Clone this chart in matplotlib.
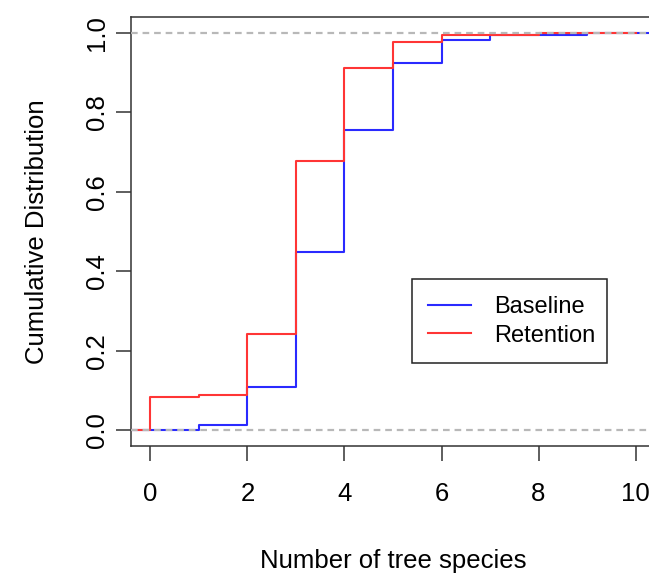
import numpy as np
import matplotlib.pyplot as plt

plt.rcParams['font.family'] = ['Liberation Sans', 'DejaVu Sans']

# ECDF step data (value after each knot)
base_knots = [1, 2, 3, 4, 5, 6, 7, 9]
base_vals = [0.013, 0.109, 0.448, 0.755, 0.925, 0.981, 0.994, 1.0]
ret_knots = [0, 1, 2, 3, 4, 5, 6, 8]
ret_vals = [0.083, 0.089, 0.241, 0.678, 0.912, 0.977, 0.994, 1.0]
x_ticks = [0, 2, 4, 6, 8, 10]
y_ticks = [0.0, 0.2, 0.4, 0.6, 0.8, 1.0]


def step_xy(knots, vals):
    # extend like R's plot.stepfun: one unit (dr) outside the knot range on each side
    dr = 1.0
    x0 = min(knots) - dr - 1
    x1 = max(knots) + dr + 1
    xs = np.concatenate([[x0], knots, [x1]])
    ys = np.concatenate([[0.0], vals, [vals[-1]]])
    return xs, ys


fig = plt.figure(figsize=(6.49, 5.73), dpi=100)
ax = fig.add_axes((131 / 649, 1 - 446 / 573, 524 / 649, 429 / 573))

xb, yb = step_xy(base_knots, base_vals)
xr, yr = step_xy(ret_knots, ret_vals)
ax.step(xb, yb, where='post', color='#2a2aff', lw=1.5, label='Baseline', zorder=2)
ax.step(xr, yr, where='post', color='#ff3535', lw=1.5, label='Retention', zorder=3)

# dashed reference lines at 0 and 1 drawn over the curves
for h in (0, 1):
    ax.axhline(h, color='#b8b8b8', lw=1.6, dashes=(3.0, 2.2), zorder=4)

ax.set_xlim(-0.4, 10.4)
ax.set_ylim(-0.04, 1.04)
ax.set_xticks(x_ticks)
ax.set_yticks(y_ticks)
ax.set_xticklabels([str(t) for t in x_ticks])
ax.set_yticklabels(['%.1f' % t for t in y_ticks], rotation=90, va='center')

for s in ax.spines.values():
    s.set_color('#333333')
    s.set_linewidth(1.1)
ax.tick_params(length=11, width=1.1, color='#333333', labelsize=18.5, pad=15)
ax.tick_params(axis='y', pad=5)

ax.set_xlabel('Number of tree species', fontsize=18.5, labelpad=31)
ax.set_ylabel('Cumulative Distribution', fontsize=18.5, labelpad=26)

leg = ax.legend(loc='lower left', bbox_to_anchor=(0.536, 0.193, 0.372, 0.196),
                mode='expand', fontsize=17, fancybox=False, framealpha=1,
                edgecolor='#222222', handlelength=1.8, handletextpad=1.0,
                borderpad=0.7, labelspacing=0.29, borderaxespad=0)
leg.get_frame().set_linewidth(1.1)

fig.savefig('out.png', dpi=100)
